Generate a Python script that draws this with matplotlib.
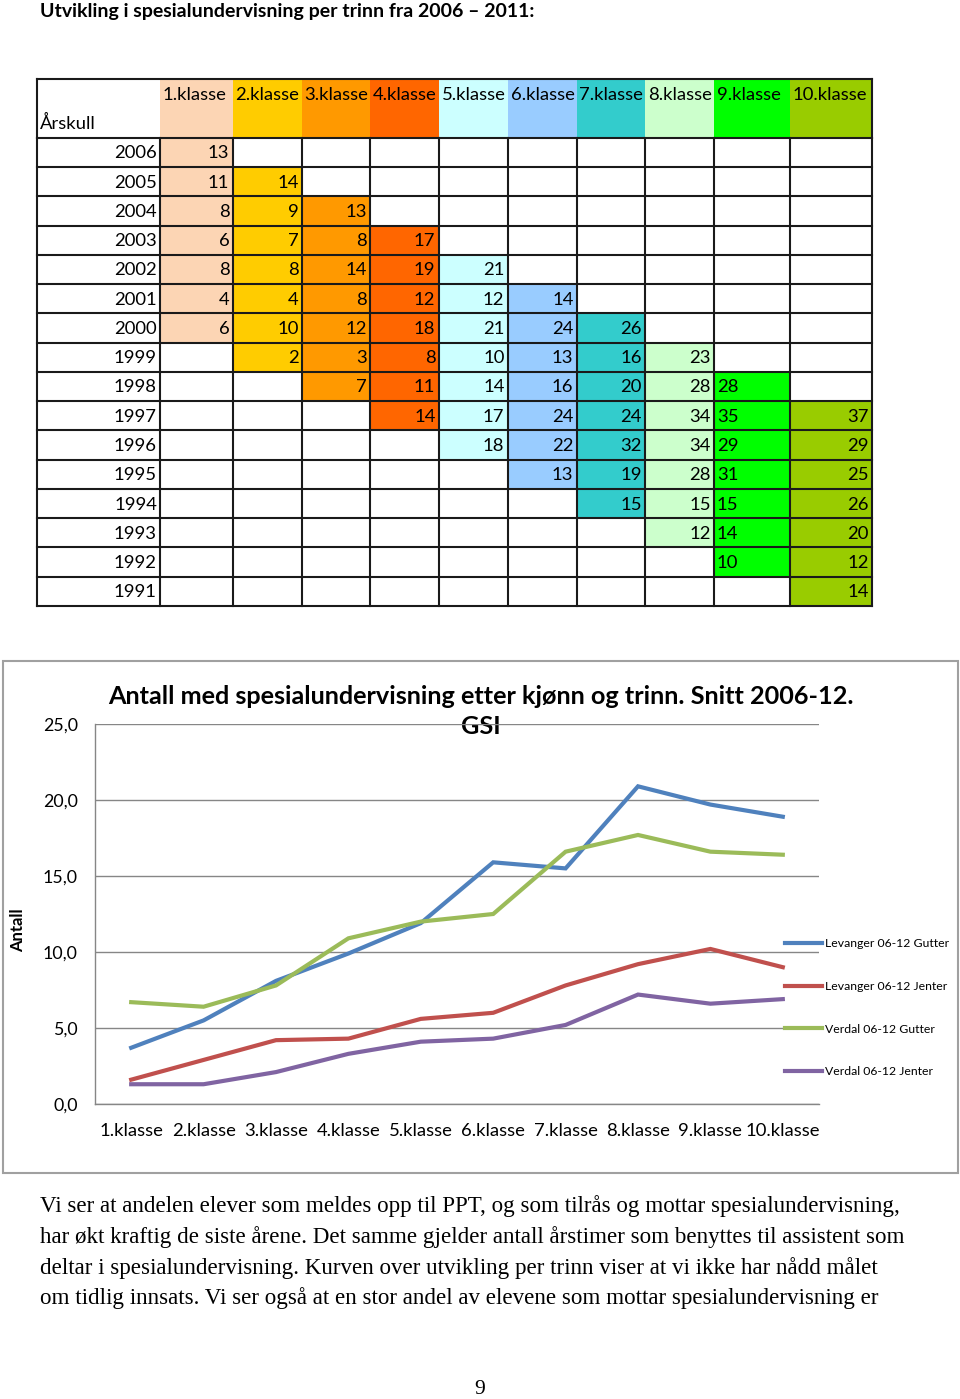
import matplotlib
matplotlib.use("Agg")
import matplotlib.pyplot as plt
from matplotlib.patches import Rectangle
import numpy as np

# ---------------- data ----------------
page_title = "Utvikling i spesialundervisning per trinn fra 2006 – 2011:"
klasser = ["1.klasse", "2.klasse", "3.klasse", "4.klasse", "5.klasse",
           "6.klasse", "7.klasse", "8.klasse", "9.klasse", "10.klasse"]
aarskull = [2006, 2005, 2004, 2003, 2002, 2001, 2000, 1999,
            1998, 1997, 1996, 1995, 1994, 1993, 1992, 1991]
col_colors = ["#FCD5B4", "#FFCC00", "#FF9900", "#FF6600", "#CCFFFF",
              "#99CCFF", "#33CCCC", "#CCFFCC", "#00FF00", "#99CC00"]
# first årskull with a value in each column, then the values downwards
start_year = [2006, 2005, 2004, 2003, 2002, 2001, 2000, 1999, 1998, 1997]
k1 = [13, 11, 8, 6, 8, 4, 6]
k2 = [14, 9, 7, 8, 4, 10, 2]
k3 = [13, 8, 14, 8, 12, 3, 7]
k4 = [17, 19, 12, 18, 8, 11, 14]
k5 = [21, 12, 21, 10, 14, 17, 18]
k6 = [14, 24, 13, 16, 24, 22, 13]
k7 = [26, 16, 20, 24, 32, 19, 15]
k8 = [23, 28, 34, 34, 28, 15, 12]
k9 = [28, 35, 29, 31, 15, 14, 10]
k10 = [37, 29, 25, 26, 20, 12, 14]
table_values = [k1, k2, k3, k4, k5, k6, k7, k8, k9, k10]

chart_title = "Antall med spesialundervisning etter kjønn og trinn. Snitt 2006-12.\nGSI"
y_label = "Antall"
series_names = ["Levanger 06-12 Gutter", "Levanger 06-12 Jenter",
                "Verdal 06-12 Gutter", "Verdal 06-12 Jenter"]
series_colors = ["#4F81BD", "#C0504D", "#9BBB59", "#8064A2"]
lev_gutter = [3.7, 5.5, 8.1, 9.9, 11.9, 15.9, 15.5, 20.9, 19.7, 18.9]
lev_jenter = [1.6, 2.9, 4.2, 4.3, 5.6, 6.0, 7.8, 9.2, 10.2, 9.0]
ver_gutter = [6.7, 6.4, 7.8, 10.9, 12.0, 12.5, 16.6, 17.7, 16.6, 16.4]
ver_jenter = [1.3, 1.3, 2.1, 3.3, 4.1, 4.3, 5.2, 7.2, 6.6, 6.9]
series = [lev_gutter, lev_jenter, ver_gutter, ver_jenter]
y_ticks = [0, 5, 10, 15, 20, 25]

paragraph = [
    "Vi ser at andelen elever som meldes opp til PPT, og som tilrås og mottar spesialundervisning,",
    "har økt kraftig de siste årene. Det samme gjelder antall årstimer som benyttes til assistent som",
    "deltar i spesialundervisning. Kurven over utvikling per trinn viser at vi ikke har nådd målet",
    "om tidlig innsats. Vi ser også at en stor andel av elevene som mottar spesialundervisning er",
]
page_number = "9"

# ---------------- layout ----------------
W, H = 960, 1399
SANS = ["Lato", "DejaVu Sans"]
SERIF = ["Liberation Serif", "DejaVu Serif"]
plt.rcParams["font.family"] = SANS

fig = plt.figure(figsize=(W / 100, H / 100), dpi=100)
bg = fig.add_axes([0, 0, 1, 1])
bg.set_xlim(0, W)
bg.set_ylim(H, 0)
bg.axis("off")

bg.text(40, 12, page_title, fontsize=14.0, fontweight="bold", ha="left", va="center")

# table geometry
col_edges = [37, 160, 232.5, 301.5, 370, 438.5, 507.5, 576.5, 645, 714, 789.5, 872]
head_top, head_mid, body_top = 79, 108, 137.7
row_h = (606 - body_top) / len(aarskull)
row_edges = [body_top + i * row_h for i in range(len(aarskull) + 1)]
tfs = 13.3

for j, col in enumerate(klasser):
    x0, x1 = col_edges[j + 1], col_edges[j + 2]
    bg.add_patch(Rectangle((x0, head_top), x1 - x0, body_top - head_top,
                           facecolor=col_colors[j], edgecolor="none", zorder=1))
    bg.text(x0 + 3, (head_top + head_mid) / 2 + 1, col, fontsize=tfs,
            ha="left", va="center", zorder=5)
    r0 = aarskull.index(start_year[j])
    for k, v in enumerate(table_values[j]):
        r = r0 + k
        y0, y1 = row_edges[r], row_edges[r + 1]
        bg.add_patch(Rectangle((x0, y0), x1 - x0, y1 - y0,
                               facecolor=col_colors[j], edgecolor="none", zorder=1))
        if j == 8:
            bg.text(x0 + 3, (y0 + y1) / 2 + 1, str(v), fontsize=tfs,
                    ha="left", va="center", zorder=5)
        else:
            bg.text(x1 - 3, (y0 + y1) / 2 + 1, str(v), fontsize=tfs,
                    ha="right", va="center", zorder=5)

bg.text(col_edges[0] + 3, (head_mid + body_top) / 2 + 1, "Årskull", fontsize=tfs,
        ha="left", va="center", zorder=5)
for r, yr in enumerate(aarskull):
    bg.text(col_edges[1] - 3, (row_edges[r] + row_edges[r + 1]) / 2 + 1, str(yr),
            fontsize=tfs, ha="right", va="center", zorder=5)

lw_t = 1.5
for y in row_edges:
    bg.plot([col_edges[0], col_edges[-1]], [y, y], color="#1a1a1a", lw=lw_t, zorder=4,
            solid_capstyle="projecting")
for x in col_edges:
    bg.plot([x, x], [body_top, row_edges[-1]], color="#1a1a1a", lw=lw_t, zorder=4,
            solid_capstyle="projecting")
bg.plot([col_edges[0], col_edges[-1]], [head_top, head_top], color="#1a1a1a", lw=lw_t, zorder=4,
        solid_capstyle="projecting")
for x in (col_edges[0], col_edges[-1]):
    bg.plot([x, x], [head_top, body_top], color="#1a1a1a", lw=lw_t, zorder=4,
            solid_capstyle="projecting")

# chart frame
bg.add_patch(Rectangle((3, 661), 955, 511.7, facecolor="white", edgecolor="#A0A0A0",
                       lw=1.5, zorder=0))

# chart axes
L, R, T, B = 95, 819, 724, 1104
ax = fig.add_axes([L / W, 1 - B / H, (R - L) / W, (B - T) / H])
ax.set_facecolor("none")
x = np.arange(1, len(klasser) + 1)
lines = []
for vals, name, c in zip(series, series_names, series_colors):
    ln, = ax.plot(x, vals, color=c, lw=3.0, label=name, solid_joinstyle="miter",
                  zorder=3)
    lines.append(ln)
ax.set_xlim(0.5, len(klasser) + 0.5)
ax.set_ylim(0, 25)
ax.set_yticks(y_ticks)
ax.set_yticklabels([f"{t:.1f}".replace(".", ",") for t in y_ticks], fontsize=12.8)
ax.set_xticks(x)
ax.set_xticklabels(klasser, fontsize=13.3)
ax.tick_params(axis="y", length=0, pad=12.5)
ax.tick_params(axis="x", length=0, pad=14)
ax.grid(axis="y", color="#868686", lw=1.0, zorder=0)
for s in ("top", "right"):
    ax.spines[s].set_visible(False)
for s in ("left", "bottom"):
    ax.spines[s].set_color("#868686")
    ax.spines[s].set_linewidth(1.0)

bg.text(481, 711.5, chart_title, fontsize=18.2, fontweight="bold", ha="center",
        va="center", linespacing=1.42, zorder=6)
bg.text(18, 930, y_label, fontsize=12, fontweight="bold", rotation=90,
        ha="center", va="center")

leg = ax.legend(handles=lines, loc="upper left", bbox_to_anchor=(785, 938),
                bbox_transform=bg.transData, frameon=False, fontsize=8.8,
                handlelength=3.0, handletextpad=0.3, labelspacing=2.6,
                borderaxespad=0, borderpad=0)

# paragraph
for i, line in enumerate(paragraph):
    bg.text(40, 1206 + i * 30.8, line, fontsize=16.6, family=SERIF, ha="left",
            va="center")
bg.text(480, 1389, page_number, fontsize=15.5, family=SERIF, ha="center", va="center")

fig.savefig("out.png", dpi=100)
